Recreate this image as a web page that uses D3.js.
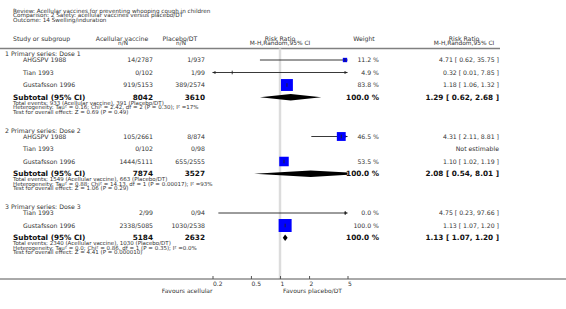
<!DOCTYPE html>
<html><head><meta charset="utf-8">
<script src="https://cdn.jsdelivr.net/npm/d3@7"></script>
<style>body{margin:0;background:#fff}svg{display:block;font-family:"DejaVu Sans",sans-serif}</style>
</head><body><svg id="c" width="566" height="309"></svg>
<script>
const titleLines = ["Review:  Acellular vaccines for preventing whooping cough in children",
  "Comparison:  2 Safety: acellular vaccines versus placebo/DT",
  "Outcome:  14 Swelling/induration"];
const groupNames = ["1 Primary series: Dose 1","2 Primary series: Dose 2","3 Primary series: Dose 3"];
const studyGroup = [0,0,0,1,1,1,2,2];
const studyNames = ["AHGSPV 1988","Tian 1993","Gustafsson 1996","AHGSPV 1988","Tian 1993","Gustafsson 1996","Tian 1993","Gustafsson 1996"];
const vaccEvents = [14,0,919,105,0,1444,2,2338];
const vaccTotal = [2787,102,5153,2661,102,5111,99,5085];
const plcEvents = [1,1,389,8,0,655,0,1030];
const plcTotal = [937,99,2574,874,98,2555,94,2538];
const weights = [11.2,4.9,83.8,46.5,null,53.5,0.0,100.0];
const rr = [4.71,0.32,1.18,4.31,null,1.10,4.75,1.13];
const rrLo = [0.62,0.01,1.06,2.11,null,1.02,0.23,1.07];
const rrHi = [35.75,7.85,1.32,8.81,null,1.19,97.66,1.20];
const subVacc = [8042,7874,5184];
const subPlc = [3610,3527,2632];
const subRR = [1.29,2.08,1.13];
const subLo = [0.62,0.54,1.07];
const subHi = [2.68,8.01,1.20];
const totVacc = [933,1549,2340];
const totPlc = [391,663,1030];
const hetero = ["Heterogeneity: Tau\u00b2 = 0.16; Chi\u00b2 = 2.42, df = 2 (P = 0.30); I\u00b2 =17%",
  "Heterogeneity: Tau\u00b2 = 0.88; Chi\u00b2 = 14.13, df = 1 (P = 0.00017); I\u00b2 =93%",
  "Heterogeneity: Tau\u00b2 = 0.0; Chi\u00b2 = 0.86, df = 1 (P = 0.35); I\u00b2 =0.0%"];
const overall = ["Test for overall effect: Z = 0.69 (P = 0.49)",
  "Test for overall effect: Z = 1.06 (P = 0.29)",
  "Test for overall effect: Z = 4.41 (P = 0.000010)"];
const tickValues = [0.2,0.5,1,2,5];
const tickLabels = ["0.2","0.5","1","2","5"];
const favourLeft = "Favours acellular", favourRight = "Favours placebo/DT";

const svg = d3.select("#c");
const TXT = "#333";
const x = d3.scaleLog().domain([0.2,5]).range([212.5,347.5]);
const col = {study:23, grp:5, sub:13, vacc:153, plc:205, weight:379, rrText:499};
const axisY = 279, headLineY = 48.5;

function text(xp, yp, s, o={}) {
  return svg.append("text").attr("x",xp).attr("y",yp).attr("dy","0.35em")
    .attr("font-size",o.size||6.2).attr("font-weight",o.bold?"bold":"normal")
    .attr("text-anchor",o.anchor||"start").attr("fill",o.fill||TXT).text(s);
}
// titles
titleLines.forEach((t,i)=>text(13, 10.7+i*4.7, t, {size:5.7}));
// headers
text(13,38.4,"Study or subgroup");
text(122,38.4,"Acellular vaccine",{anchor:"middle"});
text(123,43.4,"n/N",{anchor:"middle",size:5.7});
text(180,38.4,"Placebo/DT",{anchor:"middle"});
text(181,43.4,"n/N",{anchor:"middle",size:5.7});
text(280,38.4,"Risk Ratio",{anchor:"middle"});
text(280,43.4,"M-H,Random,95% CI",{anchor:"middle",size:5.9});
text(364,38.4,"Weight",{anchor:"middle"});
text(464,38.4,"Risk Ratio",{anchor:"middle"});
text(464,43.4,"M-H,Random,95% CI",{anchor:"middle",size:5.9});
svg.append("line").attr("x1",0).attr("x2",500).attr("y1",headLineY).attr("y2",headLineY)
  .attr("stroke","#808080").attr("stroke-width",1.5);
// null line
svg.append("line").attr("x1",x(1)).attr("x2",x(1)).attr("y1",headLineY).attr("y2",axisY)
  .attr("stroke","#dcdcdc").attr("stroke-width",2.5);

const clipId="plotclip";
svg.append("clipPath").attr("id",clipId).append("rect")
  .attr("x",x.range()[0]).attr("y",0).attr("width",x.range()[1]-x.range()[0]).attr("height",309);
const plot = svg.append("g");
const [xmin,xmax] = x.range();

function ciLine(y, lo, hi) {
  const x1 = Math.max(xmin, x(lo)), x2 = Math.min(xmax, x(hi));
  plot.append("line").attr("x1",x1).attr("x2",x2).attr("y1",y).attr("y2",y).attr("stroke","#222").attr("stroke-width",0.9);
  if (x(lo) < xmin) plot.append("path").attr("d",`M${xmin},${y}l3,-1.6v3.2z`).attr("fill","#222");
  if (x(hi) > xmax) plot.append("path").attr("d",`M${xmax},${y}l-3,-1.6v3.2z`).attr("fill","#222");
}

let h = 54.3;
groupNames.forEach((g,gi)=>{
  text(col.grp, h, g);
  let y = h + 5.7;
  const idx = studyGroup.map((d,i)=>d===gi?i:-1).filter(i=>i>=0);
  idx.forEach((i,k)=>{
    if (k>0) y += 12.5;
    text(col.study, y, studyNames[i]);
    text(col.vacc, y, `${vaccEvents[i]}/${vaccTotal[i]}`, {anchor:"end"});
    text(col.plc, y, `${plcEvents[i]}/${plcTotal[i]}`, {anchor:"end"});
    if (rr[i]==null) {
      text(col.rrText, y, "Not estimable", {anchor:"end"});
    } else {
      text(col.weight, y, weights[i].toFixed(1)+" %", {anchor:"end"});
      text(col.rrText, y, `${rr[i].toFixed(2)} [ ${rrLo[i].toFixed(2)}, ${rrHi[i].toFixed(2)} ]`, {anchor:"end"});
      ciLine(y, rrLo[i], rrHi[i]);
      const s = 13*Math.sqrt(weights[i]/100);
      if (s>3.5) plot.append("rect").attr("x",x(rr[i])-s/2).attr("y",y-s/2).attr("width",s).attr("height",s).attr("fill","#0000ff");
      plot.append("line").attr("x1",x(rr[i])).attr("x2",x(rr[i])).attr("y1",y-1.8).attr("y2",y+1.8).attr("stroke","#222").attr("stroke-width",0.9);
    }
  });
  y += 12.2;
  text(col.sub, y, "Subtotal (95% CI)", {bold:true, size:7.3, fill:"#111"});
  text(col.vacc, y, subVacc[gi], {bold:true, size:7.3, anchor:"end", fill:"#111"});
  text(col.plc, y, subPlc[gi], {bold:true, size:7.3, anchor:"end", fill:"#111"});
  text(col.weight, y, "100.0 %", {bold:true, size:7.3, anchor:"end", fill:"#111"});
  text(col.rrText, y, `${subRR[gi].toFixed(2)} [ ${subLo[gi].toFixed(2)}, ${subHi[gi].toFixed(2)} ]`, {bold:true, size:7.3, anchor:"end", fill:"#111"});
  const dh = 3.3;
  plot.append("path").attr("clip-path",`url(#${clipId})`)
    .attr("d",`M${x(subLo[gi])},${y}L${x(subRR[gi])},${y-dh}L${x(subHi[gi])},${y}L${x(subRR[gi])},${y+dh}Z`).attr("fill","#000");
  y += 5.4;
  text(col.sub, y, `Total events: ${totVacc[gi]} (Acellular vaccine), ${totPlc[gi]} (Placebo/DT)`, {size:5.5});
  y += 4.6;
  text(col.sub, y, hetero[gi], {size:5.5});
  y += 4.6;
  text(col.sub, y, overall[gi], {size:5.5});
  h = y + 19;
});

// axis
svg.append("line").attr("x1",0).attr("x2",566).attr("y1",axisY).attr("y2",axisY).attr("stroke","#555").attr("stroke-width",1);
const ax = svg.append("g").attr("transform",`translate(0,${axisY})`)
  .call(d3.axisBottom(x).tickValues(tickValues).tickSize(-3).tickPadding(2).tickFormat((d,i)=>tickLabels[i]));
ax.select(".domain").remove();
ax.selectAll(".tick line").attr("stroke","#555");
ax.selectAll(".tick text").attr("text-anchor","start").attr("font-family","DejaVu Sans").attr("font-size",6).attr("fill",TXT).attr("y",2.5).attr("dy","0.71em");
text(x(0.2), 291, favourLeft, {anchor:"end", size:6});
text(x(1)+3, 291, favourRight, {size:6});
</script></body></html>
